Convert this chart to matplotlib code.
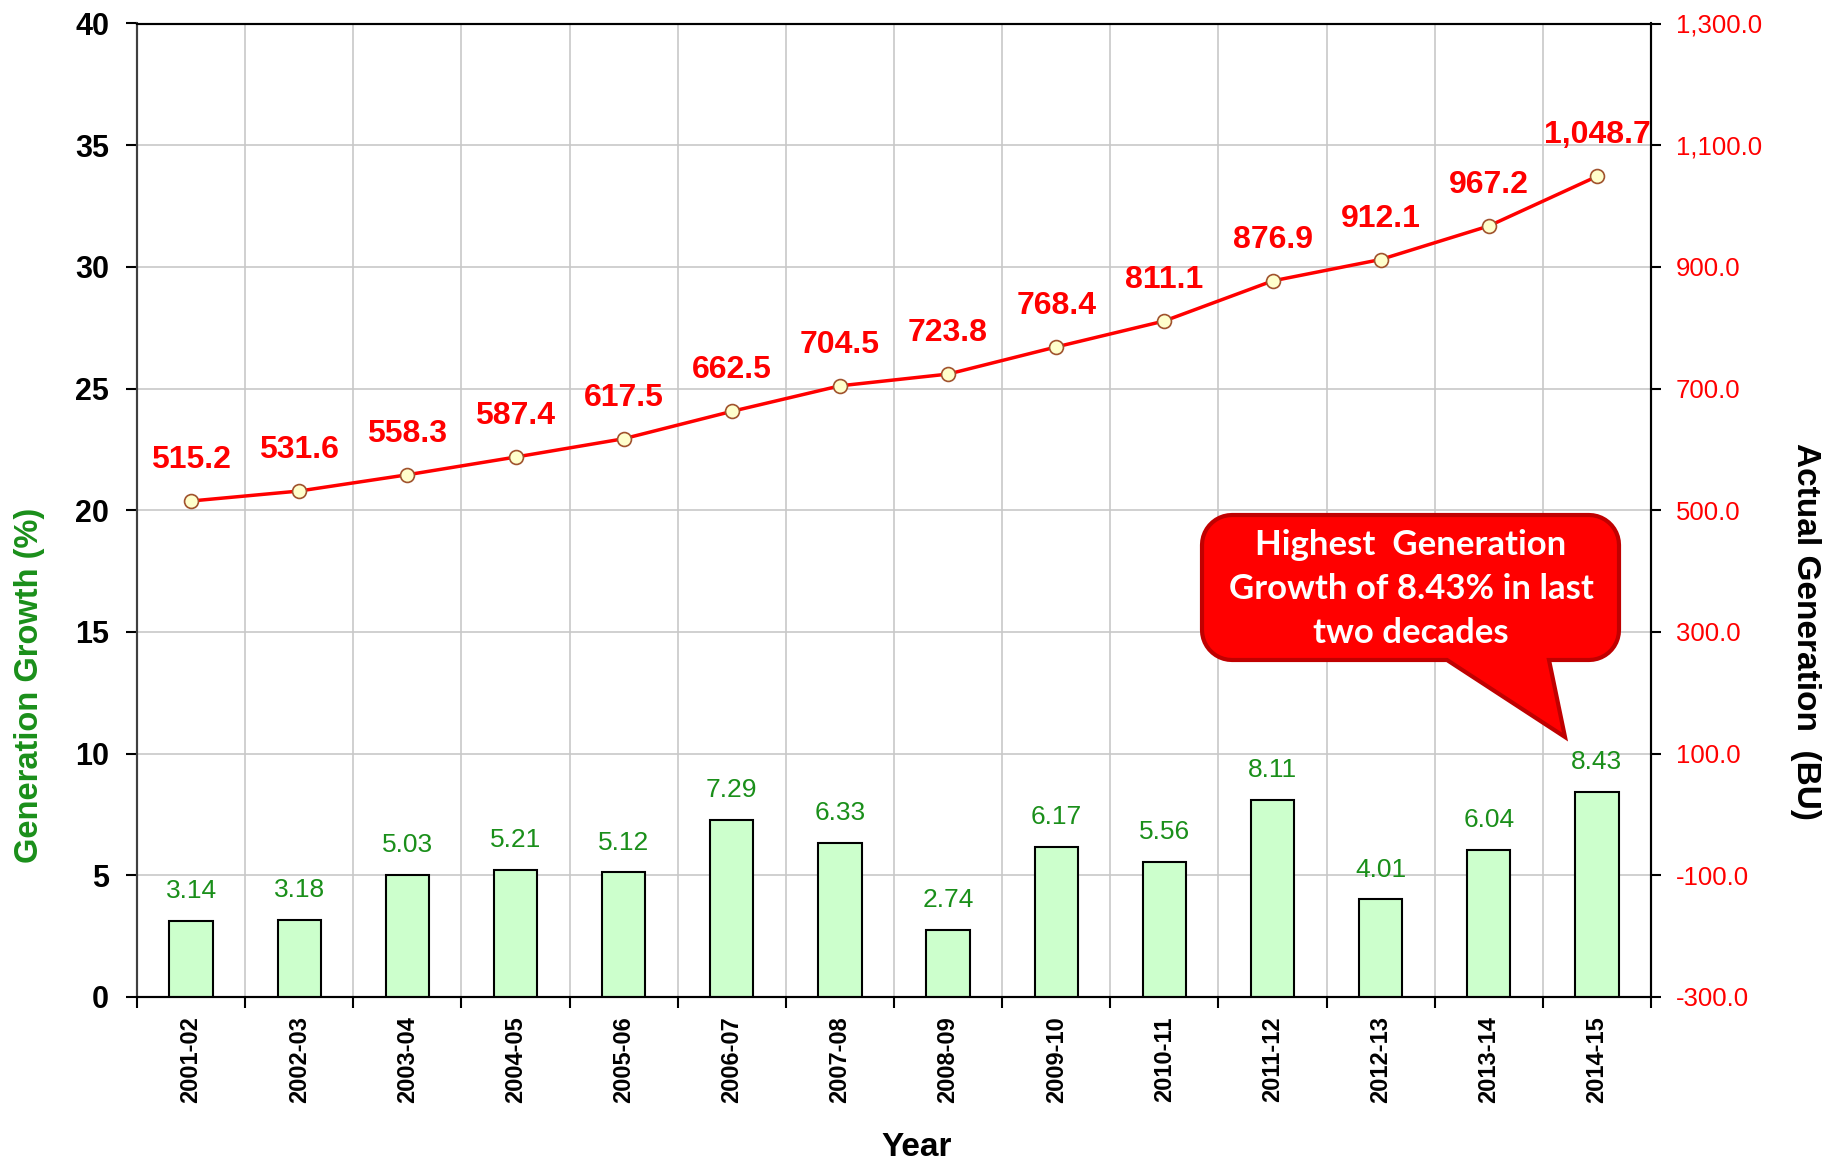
import numpy as np
import matplotlib
matplotlib.use("Agg")
import matplotlib.pyplot as plt
from matplotlib.patches import Polygon
from matplotlib.ticker import FuncFormatter

plt.rcParams["font.family"] = ["Liberation Sans", "DejaVu Sans"]

# ---- data ----
years = ["2001-02", "2002-03", "2003-04", "2004-05", "2005-06", "2006-07", "2007-08",
         "2008-09", "2009-10", "2010-11", "2011-12", "2012-13", "2013-14", "2014-15"]
growth = [3.14, 3.18, 5.03, 5.21, 5.12, 7.29, 6.33, 2.74, 6.17, 5.56, 8.11, 4.01, 6.04, 8.43]
generation = [515.2, 531.6, 558.3, 587.4, 617.5, 662.5, 704.5, 723.8, 768.4, 811.1,
              876.9, 912.1, 967.2, 1048.7]

GREEN = "#1a8f1a"
RED = "#ff0000"

W, H = 1836, 1164
fig = plt.figure(figsize=(W / 100, H / 100), dpi=100)
L, R, T, B = 137, 1651, 23.5, 997
ax = fig.add_axes([L / W, 1 - B / H, (R - L) / W, (B - T) / H])
ax2 = ax.twinx()

x = np.arange(len(years))

# bars (left axis)
ax.bar(x, growth, width=0.40, color="#ccffcc", edgecolor="black", linewidth=1.5, zorder=3)
for xi, g in zip(x, growth):
    ax.annotate(f"{g:.2f}", (xi, g), xytext=(0, 21.5), textcoords="offset points",
                ha="center", va="center", fontsize=19, color=GREEN, zorder=5)

ax.set_xlim(-0.5, len(years) - 0.5)
ax.set_ylim(0, 40)
ax.set_yticks(np.arange(0, 41, 5))
ax.set_xticks(x)
ax.set_xticklabels(years, rotation=90, fontsize=17, fontweight="bold")
ax.set_xticks(np.arange(-0.5, len(years), 1), minor=True)
ax.tick_params(axis="x", which="major", length=0, pad=14)
ax.tick_params(axis="x", which="minor", length=8, width=1.5, color="black")
ax.tick_params(axis="y", length=8, width=1.5, pad=12, labelsize=22)
for lab in ax.get_yticklabels():
    lab.set_fontweight("bold")
ax.grid(axis="x", which="minor", color="#c8c8c8", linewidth=1.2, zorder=0)
ax.grid(axis="y", which="major", color="#c8c8c8", linewidth=1.2, zorder=0)
ax.set_axisbelow(True)

ax.set_ylabel("Generation Growth (%)", fontsize=23.5, fontweight="bold", color=GREEN,
              va="center", ha="center")
ax.yaxis.set_label_coords(-0.0707, 0.32)
ax.set_xlabel("Year", fontsize=24, fontweight="bold", va="center")
ax.xaxis.set_label_coords(0.515, -0.155)

# line (right axis)
ax2.plot(x, generation, color=RED, linewidth=2.5, marker="o", markersize=10,
         markerfacecolor="#ffffcc", markeredgecolor="#a0522d", markeredgewidth=1.2, zorder=4)
for xi, v in zip(x, generation):
    ax2.annotate(f"{v:,.1f}", (xi, v), xytext=(0, 29.5), textcoords="offset points",
                 ha="center", va="center", fontsize=23, fontweight="bold", color=RED)
ax2.set_ylim(-300, 1300)
ax2.set_yticks(np.arange(-300, 1301, 200))
ax2.yaxis.set_major_formatter(FuncFormatter(lambda v, p: f"{v:,.1f}"))
ax2.tick_params(axis="y", length=7, width=1.5, pad=11, labelsize=18.5, labelcolor=RED)
ax2.set_ylabel("Actual Generation  (BU)", fontsize=24, fontweight="bold", rotation=270,
               va="center", ha="center")
ax2.yaxis.set_label_coords(1.102, 0.376)

for a in (ax, ax2):
    for s in a.spines.values():
        s.set_linewidth(1.5)
        s.set_color("black")
    a.spines["left"].set_color("#404040")

# callout box with tail (pixel offsets from axes lower-left)
aw, ah = R - L, B - T
x0, x1, yb, yt, r = 1065, 1482, 337, 482, 30
bl, br, tip = 1310, 1412, (1428, 260)
pts = [(x0 + r, yb), (bl, yb), tip, (br, yb), (x1 - r, yb)]
def arc(cx, cy, a0, a1):
    ang = np.radians(np.linspace(a0, a1, 12))
    return list(zip(cx + r * np.cos(ang), cy + r * np.sin(ang)))
pts += arc(x1 - r, yb + r, -90, 0)
pts += arc(x1 - r, yt - r, 0, 90)
pts += arc(x0 + r, yt - r, 90, 180)
pts += arc(x0 + r, yb + r, 180, 270)
pts = [(px / aw, py / ah) for px, py in pts]
ax2.add_patch(Polygon(pts, closed=True, transform=ax2.transAxes, facecolor="#ff0000",
                      edgecolor="#c00000", linewidth=3, zorder=10, clip_on=False))
ax2.text((1411 - L) / aw, (B - 589) / ah,
         "Highest  Generation\nGrowth of 8.43% in last\ntwo decades",
         transform=ax2.transAxes, ha="center", va="center", color="white",
         fontsize=25, fontweight="bold", family=["Lato", "DejaVu Sans"],
         linespacing=1.45, zorder=11)

fig.savefig("out.png", dpi=100)
